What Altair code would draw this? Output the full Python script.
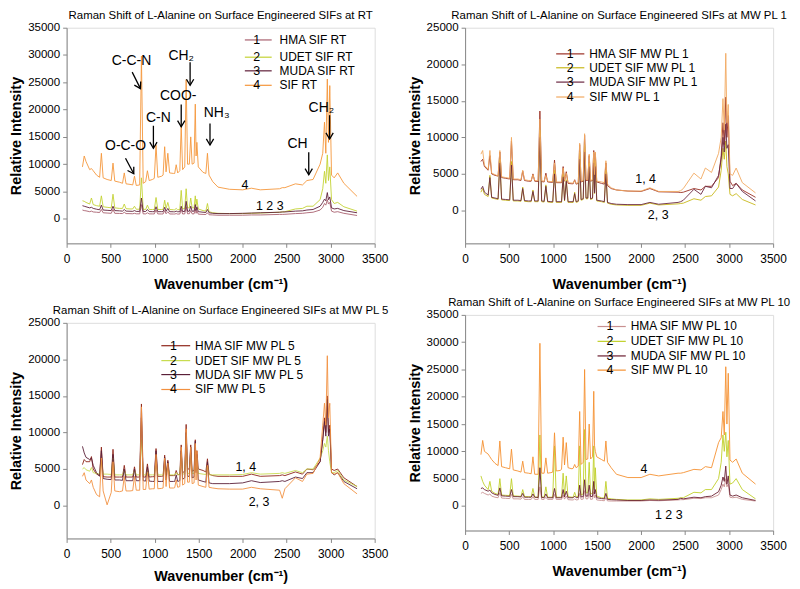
import altair as alt
import pandas as pd

FONT = "Liberation Sans"

# ---------------- shared wavenumber grid (cm-1) ----------------
WN = [180, 200, 220, 262, 282, 302, 340, 375, 395, 415,
      460, 507, 527, 547, 600, 635, 655, 675, 720, 751,
      771, 791, 830, 850, 870, 898, 918, 938, 975, 996,
      1016, 1036, 1080, 1096, 1114, 1130, 1150, 1170, 1215, 1228,
      1245, 1262, 1286, 1302, 1318, 1342, 1358, 1374, 1394, 1410,
      1426, 1448, 1462, 1471, 1480, 1496, 1550, 1582, 1600, 1618,
      1660, 1720, 1850, 2000, 2100, 2200, 2420, 2450, 2480, 2600,
      2680, 2730, 2800, 2880, 2910, 2930, 2945, 2962, 2975, 2990,
      3010, 3040, 3080, 3150, 3300]

XTICKS = [0, 500, 1000, 1500, 2000, 2500, 3000, 3500]

# ---------------- Panel 1: RT ----------------
P1_NAMES = ["HMA SIF RT", "UDET SIF RT", "MUDA SIF RT", "SIF RT"]
P1_HMA = [1600, 1500, 1450, 1300, 1400, 1250, 1200, 1150, 1700, 1100,
          1050, 1000, 1700, 1000, 980, 960, 1200, 950, 940, 920,
          1000, 910, 900, 2600, 900, 900, 1100, 900, 890, 890,
          1600, 890, 880, 880, 1500, 920, 1300, 880, 870, 870,
          950, 860, 870, 1700, 880, 900, 2200, 920, 920, 1500,
          900, 900, 1800, 1000, 1500, 850, 800, 780, 1100, 740,
          700, 650, 650, 650, 700, 700, 800, 800, 820, 950,
          1000, 1100, 1200, 1600, 2100, 2800, 2500, 3500, 2700, 3000,
          1400, 1200, 1300, 1000, 600]
P1_UDET = [3300, 3200, 3000, 2700, 3800, 2600, 2400, 2300, 4200, 2200,
           2100, 2000, 4500, 2000, 1900, 1900, 2700, 1850, 1800, 1800,
           2300, 1750, 1750, 7500, 1750, 1700, 2500, 1700, 1700, 1700,
           3900, 1700, 1700, 1700, 3400, 1900, 3000, 1700, 1650, 1650,
           1900, 1650, 1700, 5200, 1800, 1900, 5500, 2000, 2000, 3800,
           2000, 2000, 4200, 2400, 3600, 1800, 1500, 1400, 2800, 1300,
           1100, 1000, 950, 950, 1000, 1050, 1200, 1250, 1300, 1800,
           1900, 2300, 2300, 3500, 5500, 8700, 6500, 11700, 7000, 9500,
           3500, 2800, 3000, 2200, 1400]
P1_MUDA = [2400, 2300, 2200, 2000, 2100, 1900, 1750, 1650, 2500, 1600,
           1550, 1500, 2300, 1500, 1450, 1400, 1700, 1400, 1380, 1360,
           1500, 1350, 1350, 3800, 1350, 1330, 1700, 1320, 1300, 1300,
           2200, 1300, 1300, 1300, 2100, 1350, 1900, 1300, 1280, 1280,
           1400, 1280, 1300, 2300, 1320, 1350, 3200, 1380, 1380, 2300,
           1380, 1400, 2600, 1500, 2200, 1300, 1200, 1150, 1700, 1100,
           1000, 950, 950, 1000, 1050, 1100, 1200, 1250, 1250, 1400,
           1450, 1600, 1700, 2300, 3000, 3600, 3300, 4800, 3500, 4000,
           2000, 1800, 1900, 1500, 1100]
P1_SIF = [9500, 11500, 10500, 9000, 9200, 8800, 8000, 7600, 12000, 7500,
          7200, 7000, 10200, 6900, 6700, 6500, 8400, 6400, 6300, 6200,
          7800, 6100, 6200, 29800, 6500, 6800, 8800, 7000, 7200, 7400,
          13500, 7600, 7800, 8000, 13200, 8600, 12000, 8400, 8300, 8300,
          9900, 8400, 8800, 17000, 9000, 9500, 25500, 10000, 10000, 15000,
          10000, 10200, 21000, 11500, 14000, 9500, 8500, 8300, 12000, 8000,
          6800, 5800, 5400, 5300, 5600, 5300, 5500, 5700, 5700, 6400,
          6200, 7000, 7200, 10000, 12000, 17700, 12000, 25600, 14000, 24400,
          8000, 7500, 8400, 6500, 4100]
P1_COLORS = ["#a8606e", "#c4d232", "#5e1e38", "#f5963a"]

# ---------------- Panel 2: MW PL 1 ----------------
P2_NAMES = ["HMA SIF MW PL 1", "UDET SIF MW PL 1", "MUDA SIF MW PL 1", "SIF MW PL 1"]
P2_HMA = [6700, 7000, 6000, 5500, 7500, 5000, 4800, 4700, 8000, 4500,
          4400, 4300, 9500, 4200, 4200, 4100, 5400, 4100, 4000, 4000,
          5000, 4000, 3950, 13600, 3950, 3900, 5100, 3900, 3850, 3850,
          6900, 3800, 3800, 3800, 6000, 4000, 5300, 3700, 3650, 3650,
          4200, 3600, 3700, 9000, 3900, 4000, 10300, 4100, 4100, 7500,
          4000, 4100, 8200, 4800, 7800, 3900, 3700, 3600, 6500, 3400,
          3000, 2800, 2650, 2600, 3000, 2550, 2500, 2450, 2500, 3000,
          2800, 3300, 3300, 4500, 7500, 12000, 9000, 15500, 10000, 13000,
          4000, 3400, 3700, 2800, 1800]
P2_UDET = [2500, 3000, 2200, 1900, 4800, 1700, 1600, 1500, 7000, 1450,
           1400, 1350, 6700, 1300, 1300, 1250, 3200, 1250, 1200, 1200,
           2800, 1200, 1200, 11000, 1200, 1150, 3500, 1150, 1100, 1100,
           5500, 1100, 1100, 1100, 5000, 1300, 4200, 1100, 1100, 1100,
           2500, 1100, 1200, 8000, 1400, 1500, 9000, 1600, 1600, 6500,
           1500, 1600, 7000, 2300, 6800, 1300, 1200, 1100, 5500, 1000,
           850, 750, 700, 700, 1000, 750, 900, 950, 1000, 1600,
           1400, 1900, 2000, 3200, 5500, 8500, 7000, 9500, 6000, 5000,
           2200, 2000, 2300, 1500, 750]
P2_MUDA = [2900, 3300, 2500, 2100, 4500, 1800, 1700, 1600, 6500, 1550,
           1500, 1450, 6200, 1400, 1400, 1350, 3000, 1350, 1300, 1300,
           2600, 1300, 1300, 10000, 1300, 1250, 3300, 1250, 1200, 1200,
           5000, 1200, 1200, 1200, 4600, 1400, 4000, 1200, 1200, 1200,
           2300, 1200, 1300, 7000, 1500, 1600, 8000, 1700, 1700, 6000,
           1600, 1700, 6500, 2400, 6000, 1400, 1300, 1200, 5000, 1100,
           950, 850, 800, 800, 1100, 850, 1100, 1200, 1400, 2900,
           2200, 3300, 3100, 4800, 7000, 10000, 8000, 11800, 8500, 9000,
           3000, 3000, 3700, 2600, 1300]
P2_SIF = [7700, 8200, 6200, 5600, 8200, 5100, 4900, 4700, 8200, 4600,
          4500, 4400, 10000, 4300, 4300, 4200, 5500, 4200, 4100, 4100,
          4900, 4100, 4050, 12500, 4050, 4000, 4800, 4000, 3950, 3950,
          6500, 3900, 3900, 3900, 5800, 4100, 5100, 3800, 3750, 3750,
          4100, 3700, 3800, 9200, 4000, 4100, 10500, 4200, 4200, 7700,
          4100, 4200, 8000, 4900, 8000, 4000, 3900, 3800, 6800, 3600,
          3100, 2800, 2650, 2650, 3100, 2600, 2600, 2700, 3000, 5100,
          4300, 5800, 5200, 7800, 10000, 15300, 11000, 21500, 12000, 14500,
          5000, 4800, 5800, 3800, 2400]
P2_COLORS = ["#9a2e22", "#c8b81a", "#6a2640", "#f2a860"]

# ---------------- Panel 3: MW PL 5 ----------------
P3_NAMES = ["HMA SIF MW PL 5", "UDET SIF MW PL 5", "MUDA SIF MW PL 5", "SIF MW PL 5"]
P3_HMA = [5600, 6300, 6000, 6000, 6700, 5000, 4300, 4100, 8000, 3950,
          3900, 3900, 7700, 3900, 3900, 3900, 5500, 3900, 3900, 3900,
          5300, 3900, 3900, 13900, 3900, 3900, 5700, 3900, 3950, 3950,
          7800, 4000, 4000, 4050, 6900, 4200, 6200, 4100, 4100, 4100,
          4800, 4200, 4300, 8300, 4500, 4700, 11100, 5000, 5000, 8300,
          4700, 4800, 9000, 5500, 7500, 5000, 4800, 4600, 6400, 4300,
          4100, 4000, 4000, 4000, 4300, 4000, 4100, 4200, 4100, 4600,
          4300, 5000, 4900, 6000, 9000, 12000, 10000, 15000, 10000, 11000,
          5000, 4800, 5000, 3800, 2600]
P3_UDET = [5000, 5200, 4900, 4700, 5200, 4500, 4400, 4300, 6000, 4300,
           4300, 4250, 6500, 4200, 4200, 4200, 4800, 4200, 4200, 4200,
           4800, 4200, 4200, 9000, 4200, 4200, 4700, 4200, 4200, 4200,
           6000, 4200, 4200, 4200, 5500, 4300, 5200, 4200, 4200, 4200,
           4500, 4200, 4250, 7000, 4300, 4350, 9000, 4400, 4400, 7000,
           4400, 4400, 7500, 4700, 6500, 4400, 4300, 4250, 5500, 4200,
           4200, 4200, 4200, 4250, 4500, 4300, 4400, 4500, 4400, 4800,
           4500, 5000, 5000, 6500, 7500, 8500, 8000, 9500, 7500, 6000,
           4500, 4500, 4800, 3500, 2600]
P3_MUDA = [8100, 7200, 6600, 6300, 6500, 5500, 4500, 4000, 7500, 3700,
           3600, 3550, 7000, 3500, 3500, 3450, 5000, 3400, 3400, 3400,
           5000, 3400, 3400, 12000, 3400, 3350, 5300, 3350, 3300, 3300,
           7500, 3300, 3300, 3300, 6600, 3500, 6000, 3300, 3300, 3300,
           4200, 3300, 3400, 7500, 3600, 3800, 10000, 4000, 4000, 8000,
           3800, 3900, 8800, 4500, 7000, 3500, 3300, 3200, 6000, 3100,
           3000, 3000, 3000, 3100, 3400, 3150, 3300, 3400, 3300, 3900,
           3700, 4500, 4500, 6000, 9000, 11500, 9500, 14500, 9500, 10500,
           4500, 4200, 4500, 3300, 2300]
P3_SIF = [4000, 4500, 3500, 3000, 3500, 2500, 1500, 1200, 6500, 2000,
          100, 1800, 6000, 2000, 1900, 2000, 4000, 2000, 2000, 2050,
          4000, 2100, 2100, 13500, 2200, 2200, 4500, 2250, 2300, 2300,
          7000, 2300, 2350, 2400, 6500, 2600, 5800, 2400, 2400, 2450,
          3500, 2500, 2600, 8000, 2800, 3000, 10500, 3200, 3200, 8000,
          3000, 3100, 8500, 3500, 7500, 2800, 2600, 2500, 5500, 2500,
          2400, 2300, 2250, 2250, 2500, 2300, 2100, 1000, 2300, 3800,
          3300, 4300, 4400, 6500, 11000, 14000, 11000, 20500, 12000, 14000,
          4500, 4300, 4500, 3000, 1600]
P3_COLORS = ["#8e2418", "#c8dc50", "#5a1f38", "#f29040"]

# ---------------- Panel 4: MW PL 10 ----------------
P4_NAMES = ["HMA SIF MW PL 10", "UDET SIF MW PL 10", "MUDA SIF MW PL 10", "SIF MW PL 10"]
P4_HMA = [2300, 2500, 2300, 2000, 2200, 1800, 1600, 1500, 2400, 1450,
          1400, 1350, 2100, 1300, 1300, 1250, 1700, 1200, 1200, 1200,
          1700, 1200, 1200, 3500, 1200, 1200, 1600, 1200, 1200, 1200,
          2100, 1200, 1200, 1200, 2000, 1250, 1800, 1150, 1100, 1100,
          1300, 1100, 1150, 2300, 1200, 1250, 2800, 1300, 1300, 2300,
          1200, 1250, 2600, 1500, 2000, 1100, 1000, 950, 1500, 920,
          900, 900, 900, 900, 1000, 950, 1100, 1150, 1150, 1400,
          1350, 1500, 1500, 2000, 3000, 4000, 3500, 5000, 3500, 4000,
          1600, 1500, 1600, 1200, 900]
P4_UDET = [5500, 4500, 3800, 3000, 4500, 2700, 2300, 2100, 5000, 2000,
           1950, 1900, 5000, 1850, 1800, 1750, 3000, 1700, 1700, 1650,
           3200, 1600, 1600, 13000, 1650, 1600, 3500, 1600, 1600, 1600,
           11000, 1600, 1600, 1650, 6000, 1900, 5500, 1700, 1600, 1600,
           2500, 1650, 1800, 11000, 2000, 2200, 14000, 2400, 2400, 8000,
           2200, 2300, 11000, 3000, 7000, 1800, 1500, 1450, 4500, 1400,
           1300, 1200, 1100, 1100, 1300, 1200, 1400, 1500, 1500, 2500,
           2400, 3000, 3000, 5000, 8000, 13000, 10000, 13500, 9000, 12000,
           4000, 4200, 5000, 3000, 1300]
P4_MUDA = [3200, 3300, 3000, 2700, 2900, 2400, 2100, 1950, 3300, 1850,
           1800, 1750, 3000, 1700, 1700, 1650, 2300, 1600, 1600, 1600,
           2200, 1600, 1550, 7000, 1550, 1500, 2200, 1500, 1500, 1500,
           3200, 1500, 1500, 1500, 3000, 1650, 2700, 1500, 1500, 1500,
           1800, 1500, 1550, 3800, 1650, 1700, 4800, 1800, 1800, 3800,
           1700, 1750, 4500, 2200, 3000, 1500, 1350, 1300, 2300, 1200,
           1150, 1100, 1000, 1000, 1100, 1050, 1200, 1400, 1300, 1600,
           1500, 1700, 1800, 2600, 3800, 5300, 4500, 7300, 4000, 5500,
           2000, 1800, 2000, 1500, 1000]
P4_SIF = [9400, 12000, 10000, 9500, 9000, 8500, 7800, 7400, 11900, 7200,
          7000, 6800, 10400, 6600, 6400, 6200, 8200, 6100, 6000, 5900,
          9000, 5800, 5800, 29800, 6000, 6000, 8800, 6000, 6100, 6200,
          13400, 6400, 6500, 6700, 12600, 7500, 11600, 7000, 6800, 6900,
          7600, 7000, 7300, 17300, 7600, 8000, 25000, 8500, 8600, 15000,
          8600, 9000, 21000, 11000, 10000, 9000, 8500, 8200, 11900, 8000,
          7000, 5800, 5200, 5200, 5800, 5500, 6000, 6000, 6100, 6700,
          6600, 7200, 7000, 11600, 12500, 17300, 13000, 25500, 15000, 24300,
          8400, 8000, 8600, 6000, 4000]
P4_COLORS = ["#c89090", "#c0d028", "#6a1e30", "#f59030"]

# ---------------- legends (data coordinates) ----------------
P1_LEG = {"x1": 2025, "x2": 2330, "xd": 2160, "xt": 2420, "y": [32760, 29600, 27100, 24450]}
P2_LEG = {"x1": 1035, "x2": 1355, "xd": 1194, "xt": 1411, "y": [21420, 19520, 17560, 15520]}
P3_LEG = {"x1": 1076, "x2": 1404, "xd": 1215, "xt": 1460, "y": [21870, 19830, 17920, 15880]}
P4_LEG = {"x1": 1505, "x2": 1826, "xd": 1645, "xt": 1882, "y": [32870, 30150, 27480, 24880]}

# ---------------- group labels ----------------
P1_GRP = {"t": ["4", "1 2 3"], "x": [2026, 2308], "y": [6250, 2300]}
P2_GRP = {"t": ["1, 4", "2, 3"], "x": [2051, 2194], "y": [4310, -590]}
P3_GRP = {"t": ["1, 4", "2, 3"], "x": [2036, 2186], "y": [5300, 540]}
P4_GRP = {"t": ["4", "1 2 3"], "x": [2032, 2314], "y": [6850, -1630]}

# ---------------- band assignments (panel 1) ----------------
ANN_T = ["C-C-N", "CH₂", "COO-", "C-N", "NH₃", "O-C-O", "CH", "CH₂"]
ANN_X = [737, 1302, 1268, 1042, 1705, 670, 2623, 2894]
ANN_Y = [28850, 29900, 22440, 18440, 19350, 13340, 13700, 20260]
ARR_X0 = [745, 1403, 1302, 986, 1629, 669, 2751, 2988]
ARR_Y0 = [26860, 28680, 20930, 17040, 17470, 11100, 12190, 18980]
ARR_X1 = [839, 1403, 1302, 986, 1629, 763, 2751, 2988]
ARR_Y1 = [23840, 24440, 16850, 12920, 13520, 8240, 8060, 14610]
ARR_ANG = [331, 0, 0, 0, 0, 329, 0, 0]

TITLE = "Raman Shift of L-Alanine on Surface Engineered SIFs at "

AX_COLOR = "#888888"
CHEVRON = "M -0.6 -1 L 0 0 L 0.6 -1"


def panel(suffix, names, series, colors, ymax, ystep, leg, grp,
          xtitle_pad, ann=False):
    rows = []
    for nm, ys, c in zip(names, series, colors):
        if len(ys) != len(WN):
            raise ValueError(f"{nm}: {len(ys)} values for {len(WN)} wavenumbers")
        for x, y in zip(WN, ys):
            rows.append({"wn": x, "I": y, "s": nm, "col": c})
    df = pd.DataFrame(rows)

    xsc = alt.Scale(domain=[0, 3500], nice=False, zero=False)
    ysc = alt.Scale(domain=[-4500, ymax], nice=False, zero=False)
    xax = alt.Axis(values=XTICKS, format="d", title="Wavenumber (cm⁻¹)",
                   grid=False, tickSize=4, labelPadding=6,
                   titlePadding=xtitle_pad, labelFontSize=12,
                   titleFontSize=14.5, titleFontWeight="bold",
                   labelFont=FONT, titleFont=FONT, domainColor=AX_COLOR,
                   tickColor=AX_COLOR, labelColor="black", titleColor="black",
                   labelFlush=False)
    yax = alt.Axis(values=list(range(0, ymax + 1, ystep)), format="d",
                   title="Relative Intensity", grid=False, tickSize=4,
                   labelPadding=3, titlePadding=4, labelFontSize=11.6,
                   titleFontSize=14.5, titleFontWeight="bold", labelFont=FONT,
                   titleFont=FONT, domainColor=AX_COLOR, tickColor=AX_COLOR,
                   labelColor="black", titleColor="black", labelFlush=False)

    def X(f):
        return alt.X(f, type="quantitative", scale=xsc, axis=xax)

    def Y(f):
        return alt.Y(f, type="quantitative", scale=ysc, axis=yax)

    lines = alt.Chart(df).mark_line(strokeWidth=0.9, clip=True).encode(
        x=X("wn"), y=Y("I"),
        color=alt.Color("col:N", scale=None),
        detail="s:N",
    )

    ldf = pd.DataFrame({
        "x1": [leg["x1"]] * 4, "x2": [leg["x2"]] * 4,
        "xd": [leg["xd"]] * 4, "xt": [leg["xt"]] * 4,
        "y": leg["y"], "digit": ["1", "2", "3", "4"],
        "label": names, "col": colors,
    })
    lrule = alt.Chart(ldf).mark_rule(strokeWidth=1.2).encode(
        x=X("x1"), x2="x2:Q", y=Y("y"), color=alt.Color("col:N", scale=None))
    ldig = alt.Chart(ldf).mark_text(fontSize=12.5, font=FONT, color="black",
                                    baseline="middle").encode(
        x=X("xd"), y=Y("y"), text="digit:N")
    llab = alt.Chart(ldf).mark_text(fontSize=12, font=FONT, color="black",
                                    align="left", baseline="middle").encode(
        x=X("xt"), y=Y("y"), text="label:N")

    gdf = pd.DataFrame({"t": grp["t"], "x": grp["x"], "y": grp["y"]})
    glab = alt.Chart(gdf).mark_text(fontSize=12.5, font=FONT, color="black",
                                    baseline="middle").encode(
        x=X("x"), y=Y("y"), text="t:N")

    layers = [lines, lrule, ldig, llab, glab]

    if ann:
        adf = pd.DataFrame({"t": ANN_T, "x": ANN_X, "y": ANN_Y})
        atext = alt.Chart(adf).mark_text(fontSize=14, font=FONT, color="black",
                                         baseline="middle").encode(
            x=X("x"), y=Y("y"), text="t:N")
        rdf = pd.DataFrame({"x0": ARR_X0, "y0": ARR_Y0, "x1": ARR_X1,
                            "y1": ARR_Y1, "ang": ARR_ANG})
        arule = alt.Chart(rdf).mark_rule(strokeWidth=1.3, color="black").encode(
            x=X("x0"), y=Y("y0"), x2="x1:Q", y2="y1:Q")
        ahead = alt.Chart(rdf).mark_point(shape=CHEVRON, filled=False,
                                          stroke="black", strokeWidth=1.3,
                                          opacity=1, size=150).encode(
            x=X("x1"), y=Y("y1"), angle=alt.Angle("ang:Q", scale=None))
        layers += [arule, ahead, atext]

    return alt.layer(*layers).properties(
        width=310, height=217,
        title=alt.TitleParams(TITLE + suffix, fontSize=11.5, font=FONT,
                              fontWeight="normal", anchor="middle",
                              frame="group", offset=0, color="black"),
    )


p1 = panel("RT", P1_NAMES, [P1_HMA, P1_UDET, P1_MUDA, P1_SIF], P1_COLORS,
           35000, 5000, P1_LEG, P1_GRP, 13, ann=True)
p2 = panel("MW PL 1", P2_NAMES, [P2_HMA, P2_UDET, P2_MUDA, P2_SIF], P2_COLORS,
           25000, 5000, P2_LEG, P2_GRP, 13)
p3 = panel("MW PL 5", P3_NAMES, [P3_HMA, P3_UDET, P3_MUDA, P3_SIF], P3_COLORS,
           25000, 5000, P3_LEG, P3_GRP, 10)
p4 = panel("MW PL 10", P4_NAMES, [P4_HMA, P4_UDET, P4_MUDA, P4_SIF], P4_COLORS,
           35000, 5000, P4_LEG, P4_GRP, 13)

left = alt.vconcat(p1, p3, spacing=14)
right = alt.vconcat(p2, p4, spacing=6)
chart = alt.hconcat(left, right, spacing=17).properties(
    padding={"left": 0, "top": 0, "right": 0, "bottom": 0}
).configure_view(stroke=AX_COLOR, strokeWidth=1).configure(background="white")

chart.save("out.html", embed_options={"renderer": "svg", "actions": False})
